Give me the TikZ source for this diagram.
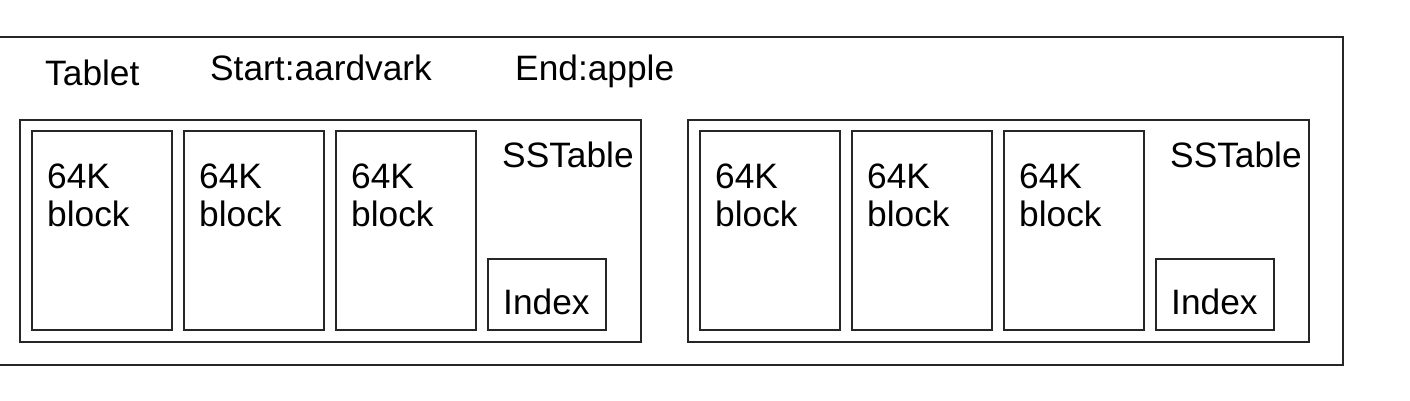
\documentclass[tikz,border=0pt]{standalone}
\usepackage{fontspec}
\setmainfont{Liberation Sans}
\begin{document}
\begin{tikzpicture}[x=1pt,y=-1pt,
  box/.style={draw=black!85, line width=1.3pt, inner sep=0pt, outer sep=0pt, anchor=north west},
  lbl/.style={inner sep=0pt, anchor=base west, font=\fontsize{35.3}{38}\selectfont, align=left}]
\useasboundingbox (0,0) rectangle (1410,400);
% tablet
\node[box, minimum width=1353pt, minimum height=328pt] (tablet) at (-10,37) {};
\node[lbl] (tl) at (45,85) {Tablet};
\node[lbl] (st) at (210,80) {Start:aardvark};
\node[lbl] (en) at (515,80) {End:apple};
\foreach \s/\ox in {1/0, 2/668} {
  \node[box, minimum width=621pt, minimum height=222pt] (ss\s) at (20+\ox,120) {};
  \node[lbl] (sst\s) at (502+\ox,167) {SSTable};
  \foreach \b/\bx in {1/32, 2/184, 3/336} {
    \node[box, minimum width=140pt, minimum height=199pt] (b\s\b) at (\bx+\ox,131) {};
    \node[lbl] (bt\s\b) at (\bx+15+\ox,226) {64K\\block};
  }
  \node[box, minimum width=118pt, minimum height=71pt] (ix\s) at (488+\ox,259) {};
  \node[lbl] (ixt\s) at (503+\ox,314) {Index};
}
\end{tikzpicture}
\end{document}
